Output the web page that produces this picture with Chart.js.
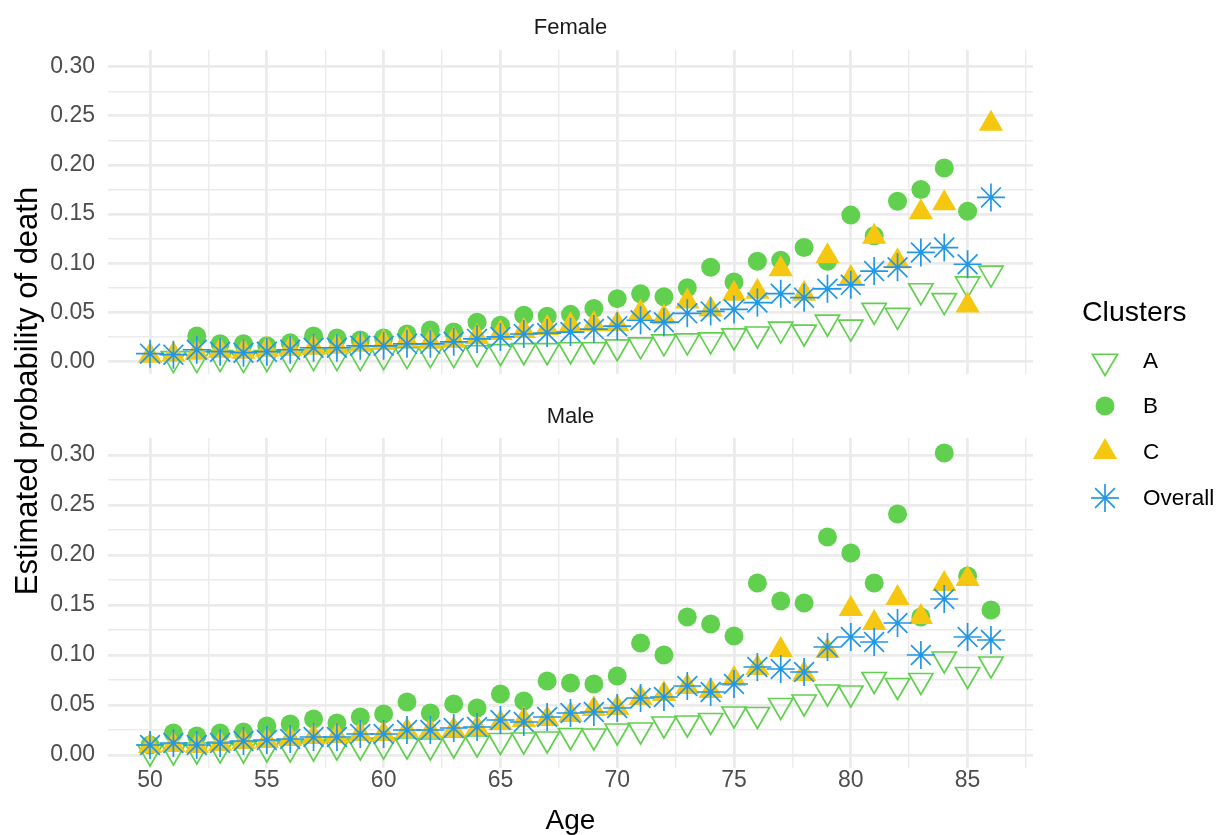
<!DOCTYPE html>
<html>
<head>
<meta charset="utf-8">
<script src="https://cdn.jsdelivr.net/npm/chart.js@4/dist/chart.umd.min.js"></script>
<style>
  html, body { margin: 0; padding: 0; background: #ffffff; }
  #wrap { position: relative; width: 1219px; height: 835px; overflow: hidden;
          font-family: "Liberation Sans", Arial, Helvetica, sans-serif; background: #ffffff; }
  #wrap canvas { position: absolute; left: 0; }
  .strip { position: absolute; left: 108px; width: 925px; height: 24px; line-height: 24px;
           text-align: center; font-size: 22px; color: #1A1A1A; }
  #ytitle { position: absolute; width: 600px; height: 36px; line-height: 36px; text-align: center;
            left: -273px; top: 373px; transform: rotate(-90deg); font-size: 31px; color: #000; }
  #legend { position: absolute; left: 1070px; top: 0; width: 149px; height: 835px; }
  #legend .title { position: absolute; left: 12px; top: 294px; font-size: 28.5px; line-height: 34px; color: #000; }
  #legend .item { position: absolute; left: 0; width: 149px; height: 40px; }
  #legend .item svg { position: absolute; left: 15px; top: 0; }
  #legend .item span { position: absolute; left: 73px; top: 8px; font-size: 22.5px; line-height: 24px; color: #000; }
</style>
</head>
<body>
<div id="wrap">
  <canvas id="female" width="1219" height="390" style="top:0px"></canvas>
  <canvas id="male" width="1219" height="445" style="top:390px"></canvas>
  <div class="strip" style="top:15px">Female</div>
  <div class="strip" style="top:404px">Male</div>
  <div id="ytitle">Estimated probability of death</div>
  <div id="legend"><div class="title">Clusters</div></div>
</div>
<script>
// Age at which each estimate was computed
const ages = [50, 51, 52, 53, 54, 55, 56, 57, 58, 59, 60, 61, 62, 63, 64, 65, 66, 67, 68,
              69, 70, 71, 72, 73, 74, 75, 76, 77, 78, 79, 80, 81, 82, 83, 84, 85, 86];

// Female estimates by cluster
const femaleA = [null, 0.003, 0.003, 0.004, 0.003, 0.004, 0.004, 0.005, 0.005, 0.005, 0.006, 0.007,
                 0.008, 0.008, 0.009, 0.010, 0.011, 0.011, 0.012, 0.012, 0.015, 0.017, 0.020, 0.021,
                 0.022, 0.026, 0.028, 0.033, 0.030, 0.040, 0.035, 0.052, 0.047, 0.072, 0.062, 0.079, 0.090];
const femaleB = [null, null, 0.026, 0.018, 0.018, 0.016, 0.019, 0.026, 0.024, 0.022, 0.024, 0.028,
                 0.032, 0.030, 0.040, 0.037, 0.047, 0.046, 0.048, 0.054, 0.064, 0.069, 0.066, 0.075,
                 0.096, 0.081, 0.102, 0.103, 0.116, 0.102, 0.149, 0.128, 0.163, 0.175, 0.197, 0.153, null];
const femaleC = [0.006, 0.007, 0.009, 0.011, 0.010, 0.012, 0.013, 0.014, 0.015, 0.017, 0.019, 0.022,
                 0.020, 0.022, 0.025, 0.029, 0.031, 0.034, 0.037, 0.038, 0.038, 0.050, 0.045, 0.061,
                 0.053, 0.069, 0.071, 0.094, 0.069, 0.107, 0.085, 0.127, 0.102, 0.152, 0.161, 0.057, 0.242];
const femaleOverall = [0.008, 0.007, 0.012, 0.010, 0.009, 0.010, 0.012, 0.014, 0.014, 0.016, 0.016, 0.018,
                       0.018, 0.020, 0.023, 0.025, 0.028, 0.029, 0.030, 0.033, 0.036, 0.042, 0.040, 0.049,
                       0.051, 0.053, 0.060, 0.069, 0.065, 0.074, 0.078, 0.092, 0.096, 0.111, 0.116, 0.099, 0.167];

// Male estimates by cluster
const maleA = [0.003, 0.004, 0.005, 0.006, 0.006, 0.007, 0.007, 0.008, 0.009, 0.009, 0.010, 0.010,
               0.009, 0.011, 0.012, 0.0145, 0.015, 0.016, 0.0195, 0.019, 0.024, 0.025, 0.031, 0.032,
               0.0345, 0.041, 0.0405, 0.0495, 0.053, 0.063, 0.062, 0.0755, 0.0695, 0.0745, 0.096, 0.0805, 0.091];
const maleB = [0.010, 0.022, 0.019, 0.022, 0.023, 0.029, 0.031, 0.036, 0.032, 0.038, 0.041, 0.053,
               0.042, 0.051, 0.047, 0.061, 0.054, 0.074, 0.072, 0.071, 0.079, 0.112, 0.100, 0.138,
               0.131, 0.119, 0.172, 0.154, 0.152, 0.218, 0.202, 0.172, 0.241, 0.138, 0.302, 0.179, 0.145];
const maleC = [0.009, 0.010, 0.009, 0.011, 0.013, 0.014, 0.016, 0.018, 0.019, 0.021, 0.021, 0.024,
               0.024, 0.025, 0.027, 0.032, 0.035, 0.036, 0.040, 0.046, 0.047, 0.057, 0.061, 0.068,
               0.064, 0.076, 0.087, 0.105, 0.081, 0.104, 0.146, 0.132, 0.157, 0.138, 0.171, 0.176, null];
const maleOverall = [0.010, 0.012, 0.010, 0.012, 0.014, 0.015, 0.016, 0.018, 0.018, 0.021, 0.021, 0.025,
                     0.025, 0.027, 0.028, 0.035, 0.033, 0.038, 0.042, 0.043, 0.047, 0.057, 0.058, 0.069,
                     0.063, 0.071, 0.088, 0.086, 0.083, 0.108, 0.118, 0.113, 0.132, 0.100, 0.156, 0.118, 0.115];

// Axis breaks
const xBreaks = [50, 55, 60, 65, 70, 75, 80, 85];
const yBreaks = [0, 0.05, 0.10, 0.15, 0.20, 0.25, 0.30];
const xLimits = [48.2, 87.8];
const yLimits = [-0.013, 0.317];

// Cluster styling
const clusterNames = ['A', 'B', 'C', 'Overall'];
const GREEN = '#61D04F', YELLOW = '#F5C710', BLUE = '#2297E6';
const GRID = '#EBEBEB';
const FONT = '"Liberation Sans", Arial, Helvetica, sans-serif';

function points(values) {
  return ages.map((a, i) => ({ x: a, y: values[i] }));
}

// major breaks plus the midpoints between them that fall inside the limits
function withMinor(breaks, lim) {
  const step = breaks[1] - breaks[0];
  const out = [];
  const all = [breaks[0] - step / 2].concat(breaks.flatMap(b => [b, b + step / 2]));
  all.forEach(v => {
    const isMajor = breaks.some(b => Math.abs(b - v) < 1e-9);
    if (v >= lim[0] && v <= lim[1]) out.push({ value: v, minor: !isMajor });
  });
  return out;
}

function datasets(A, B, C, O) {
  return [
    { label: clusterNames[0], data: points(A), order: 3, pointStyle: 'triangle', pointRotation: 180,
      pointRadius: 14, pointBackgroundColor: 'rgba(0,0,0,0)', pointBorderColor: GREEN, pointBorderWidth: 1.7 },
    { label: clusterNames[1], data: points(B), order: 2, pointStyle: 'circle',
      pointRadius: 9.5, pointBackgroundColor: GREEN, pointBorderColor: GREEN, pointBorderWidth: 0 },
    { label: clusterNames[2], data: points(C), order: 1, pointStyle: 'triangle',
      pointRadius: 14, pointBackgroundColor: YELLOW, pointBorderColor: YELLOW, pointBorderWidth: 0 },
    { label: clusterNames[3], data: points(O), order: 0, pointStyle: 'star',
      pointRadius: 14, pointBackgroundColor: BLUE, pointBorderColor: BLUE, pointBorderWidth: 1.7 }
  ];
}

function gridWidth(ctx) {
  return ctx.tick && ctx.tick.minor ? 1.4 : 2.8;
}

function makeChart(id, data, opts) {
  const ctx = document.getElementById(id).getContext('2d');
  return new Chart(ctx, {
    type: 'scatter',
    data: { datasets: data },
    options: {
      responsive: false,
      animation: false,
      events: [],
      layout: { padding: opts.padding },
      plugins: { legend: { display: false }, tooltip: { enabled: false }, title: { display: false } },
      scales: {
        x: {
          type: 'linear', min: xLimits[0], max: xLimits[1],
          border: { display: false },
          grid: { color: GRID, lineWidth: gridWidth, drawTicks: false },
          afterBuildTicks: s => { s.ticks = withMinor(xBreaks, xLimits); },
          ticks: {
            display: opts.showX, autoSkip: false, maxRotation: 0, padding: 1,
            color: '#4D4D4D', font: { family: FONT, size: 23, lineHeight: 1 },
            callback: (v) => xBreaks.includes(v) ? String(v) : ''
          },
          title: {
            display: opts.showX, text: 'Age', color: '#000000',
            font: { family: FONT, size: 28, lineHeight: 1 }, padding: { top: 0, bottom: 0 }
          },
          afterFit: s => { s.height = opts.xHeight; s.paddingLeft = 0; s.paddingRight = 0; }
        },
        y: {
          type: 'linear', min: yLimits[0], max: yLimits[1],
          border: { display: false },
          grid: { color: GRID, lineWidth: gridWidth, drawTicks: false },
          afterBuildTicks: s => { s.ticks = withMinor(yBreaks, yLimits); },
          ticks: {
            autoSkip: false, padding: 13, color: '#4D4D4D',
            font: { family: FONT, size: 23, lineHeight: 1 },
            callback: (v) => yBreaks.some(b => Math.abs(b - v) < 1e-9) ? v.toFixed(2) : ''
          },
          afterFit: s => { s.width = 108; s.paddingTop = 0; s.paddingBottom = 0; }
        }
      }
    }
  });
}

makeChart('female', datasets(femaleA, femaleB, femaleC, femaleOverall),
  { padding: { left: 0, right: 186, top: 50, bottom: 10 }, showX: false, xHeight: 0 });
makeChart('male', datasets(maleA, maleB, maleC, maleOverall),
  { padding: { left: 0, right: 186, top: 48, bottom: 0 }, showX: true, xHeight: 67 });

// legend keys
const legendKeys = [
  { name: clusterNames[0], cy: 361,
    svg: '<polygon points="20,34.5 7.44,13.25 32.56,13.25" fill="none" stroke="' + GREEN + '" stroke-width="1.7"/>' },
  { name: clusterNames[1], cy: 406,
    svg: '<circle cx="20" cy="20" r="9.5" fill="' + GREEN + '"/>' },
  { name: clusterNames[2], cy: 452,
    svg: '<polygon points="20,6 32.12,27 7.88,27" fill="' + YELLOW + '"/>' },
  { name: clusterNames[3], cy: 498,
    svg: '<g stroke="' + BLUE + '" stroke-width="1.7"><line x1="6" y1="20" x2="34" y2="20"/><line x1="20" y1="6" x2="20" y2="34"/>' +
         '<line x1="10.1" y1="10.1" x2="29.9" y2="29.9"/><line x1="10.1" y1="29.9" x2="29.9" y2="10.1"/></g>' }
];
const legend = document.getElementById('legend');
legendKeys.forEach(k => {
  const d = document.createElement('div');
  d.className = 'item';
  d.style.top = (k.cy - 20) + 'px';
  d.innerHTML = '<svg width="40" height="40" viewBox="0 0 40 40">' + k.svg + '</svg><span>' + k.name + '</span>';
  legend.appendChild(d);
});
</script>
</body>
</html>
